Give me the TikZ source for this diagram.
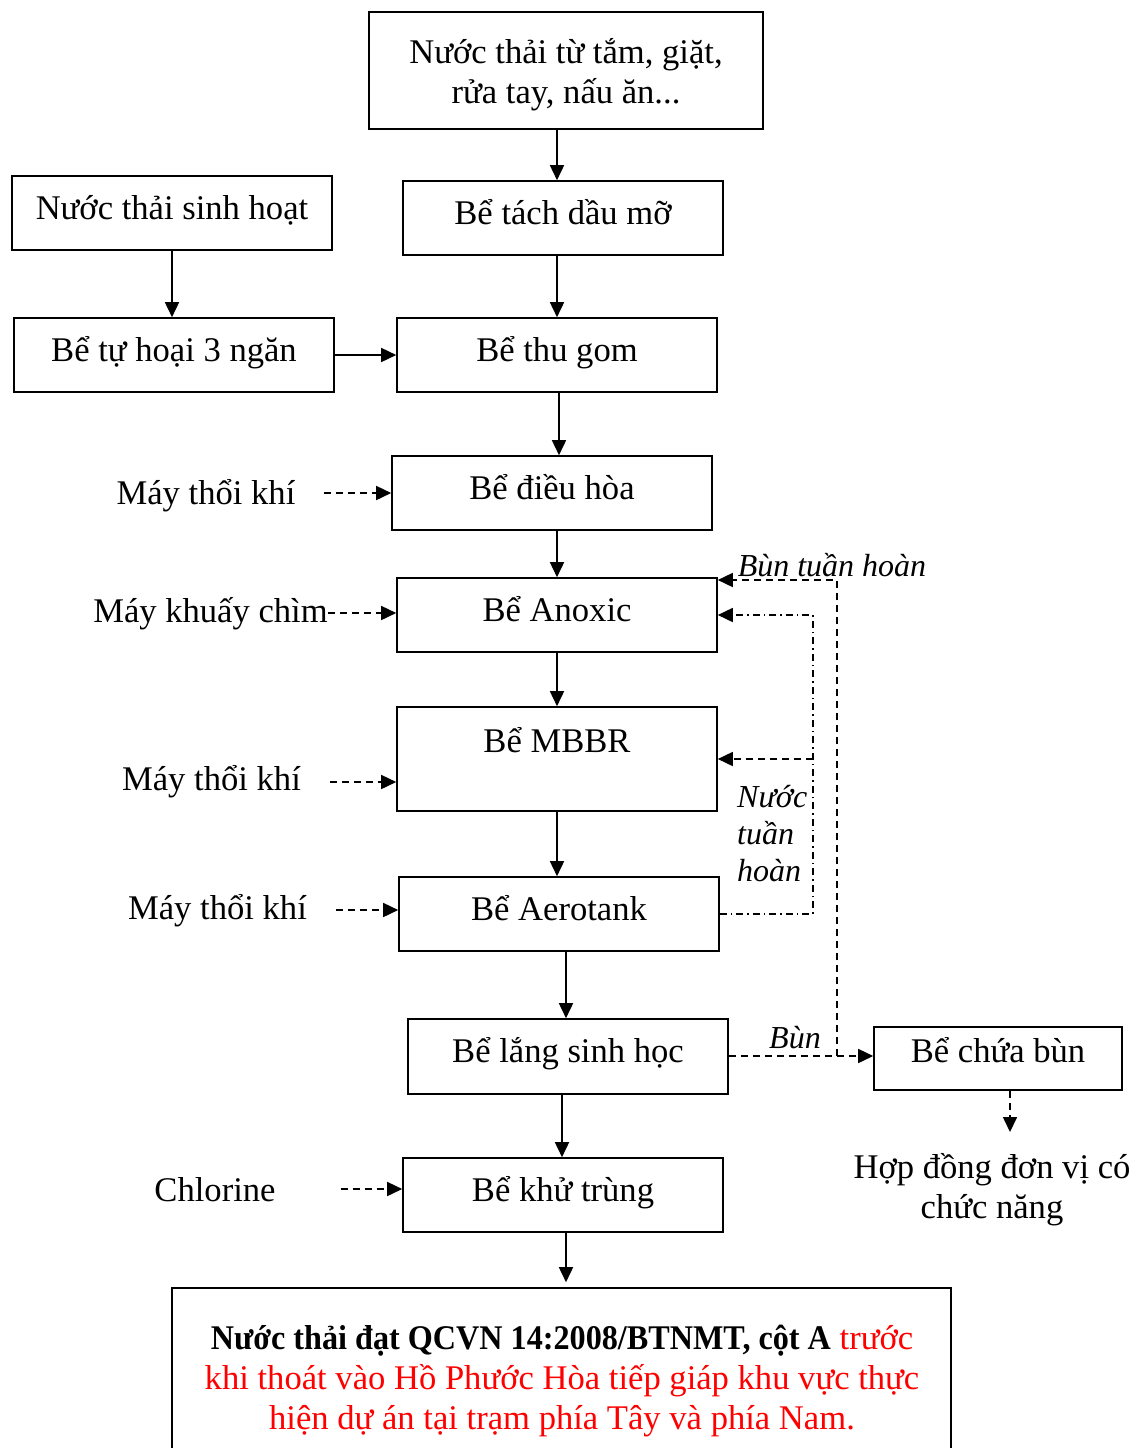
\documentclass[tikz,border=0pt]{standalone}
\usepackage{fontspec}
\usepackage{graphicx}
\setmainfont{Liberation Serif}
\usetikzlibrary{arrows.meta}
\newcommand\myfs{\fontsize{34.6}{40}\selectfont}
\newcommand\myit{\fontsize{32}{37}\selectfont\itshape}
\tikzset{
  frame/.style={draw, line width=1.6pt, minimum width=320pt, minimum height=74pt, inner sep=0pt, font=\myfs, align=center},
  box/.style={frame, text height=26pt, text depth=14pt},
  lbl/.style={inner sep=0pt, font=\myfs},
  ilbl/.style={inner sep=0pt, font=\myit},
  arr/.style={line width=1.6pt, -{Triangle[length=15pt,width=14pt]}},
  dsh/.style={line width=1.6pt, dash pattern=on 7pt off 5pt},
  ddot/.style={line width=1.4pt, dash pattern=on 7pt off 4pt on 1.5pt off 4pt},
}
\begin{document}
\begin{tikzpicture}[x=1pt,y=-1pt]
\useasboundingbox (0,0) rectangle (1142,1448);
% boxes
\node[frame, minimum width=394pt, minimum height=117pt] (src) at (566,70.5) {};
\node[lbl, align=center] (srct) at (566,74.5) {Nước thải từ tắm, giặt,\\rửa tay, nấu ăn...};
\node[box] (tach) at (563,218) {Bể tách dầu mỡ};
\node[box] (sh) at (172,213) {Nước thải sinh hoạt};
\node[box] (thoai) at (174,355) {Bể tự hoại 3 ngăn};
\node[box] (thugom) at (557,355) {Bể thu gom};
\node[box] (dieuhoa) at (552,493) {Bể điều hòa};
\node[box] (anoxic) at (557,615) {Bể Anoxic};
\node[frame, minimum height=104pt] (mbbr) at (557,759) {};
\node[lbl] (mbbrt) at (557,740) {Bể MBBR};
\node[box] (aero) at (559,914) {Bể Aerotank};
\node[box, minimum height=75pt] (lang) at (568,1056.5) {Bể lắng sinh học};
\node[frame, minimum width=248pt, minimum height=63pt] (chua) at (998,1058.5) {};
\node[lbl] (chuat) at (998,1050) {Bể chứa bùn};
\node[box] (khu) at (563,1195) {Bể khử trùng};
\node[frame, minimum width=779pt, minimum height=172pt] (final) at (561.5,1374) {};
\node[lbl, align=center] (finalt) at (562,1381) {{\bfseries\scalebox{0.93}[1]{Nước thải đạt QCVN 14:2008/BTNMT, cột A}} \textcolor{red}{trước}\\\textcolor{red}{khi thoát vào Hồ Phước Hòa tiếp giáp khu vực thực}\\\textcolor{red}{hiện dự án tại trạm phía Tây và phía Nam.}};
% main arrows
\draw[arr] ([xshift=-6pt]tach.north |- src.south) -- ([xshift=-6pt]tach.north);
\draw[arr] ([xshift=-6pt]tach.south) -- ([xshift=-6pt]tach.south |- thugom.north);
\draw[arr] (sh.south) -- (sh.south |- thoai.north);
\draw[arr] (thoai.east) -- (thugom.west);
\draw[arr] ([xshift=2pt]thugom.south) -- ([xshift=2pt]thugom.south |- dieuhoa.north);
\draw[arr] (anoxic.north |- dieuhoa.south) -- (anoxic.north);
\draw[arr] (anoxic.south) -- (mbbr.north);
\draw[arr] (mbbr.south) -- (mbbr.south |- aero.north);
\draw[arr] ([xshift=7pt]aero.south) -- ([xshift=7pt]aero.south |- lang.north);
\draw[arr] ([xshift=-6pt]lang.south) -- ([xshift=-6pt]lang.south |- khu.north);
\draw[arr] ([xshift=3pt]khu.south) -- ([xshift=3pt,yshift=5pt]khu.south |- final.north);
% left inputs
\node[lbl] (m1) at (206,496) {Máy thổi khí};
\node[lbl] (m2) at (210.5,614) {Máy khuấy chìm};
\node[lbl] (m3) at (211.5,782) {Máy thổi khí};
\node[lbl] (m4) at (217.5,911) {Máy thổi khí};
\node[lbl] (m5) at (215,1190) {Chlorine};
\draw[dsh, arr] ([xshift=28pt,yshift=3pt]m1.east) -- ([yshift=3pt]m1.east -| dieuhoa.west);
\draw[dsh, arr] ([yshift=1pt]m2.east) -- ([yshift=1pt]m2.east -| anoxic.west);
\draw[dsh, arr] ([xshift=29pt]m3.east) -- (m3.east -| mbbr.west);
\draw[dsh, arr] ([xshift=29pt,yshift=1pt]m4.east) -- ([yshift=1pt]m4.east -| aero.west);
\draw[dsh, arr] ([xshift=65pt,yshift=1pt]m5.east) -- ([yshift=1pt]m5.east -| khu.west);
% right side recirculation
\coordinate (bj) at (837,1056);
\coordinate (bt) at (837,580);
\coordinate (dd) at (813,615);
\coordinate (mm) at (813,759);
\coordinate (hopin) at (1010,1132);
\draw[dsh, arr] (lang.east |- bj) -- (bj -| chua.west);
\draw[dsh, arr] (bj) -- (bt) -- (bt -| anoxic.east);
\draw[ddot, arr] (aero.east) -| (dd) -- (anoxic.east);
\draw[dsh, arr] (mm) -- (mm -| mbbr.east);
\draw[dsh, arr] (hopin |- chua.south) -- (hopin);
% italic labels
\node[ilbl] (lbt) at (832,565) {Bùn tuần hoàn};
\node[ilbl] (lb) at (795,1038) {Bùn};
\node[ilbl, align=left, anchor=west] (lnt) at (737,834) {Nước\\tuần\\hoàn};
\node[lbl, align=center] (hop) at (992,1190) {Hợp đồng đơn vị có\\chức năng};
\end{tikzpicture}
\end{document}
